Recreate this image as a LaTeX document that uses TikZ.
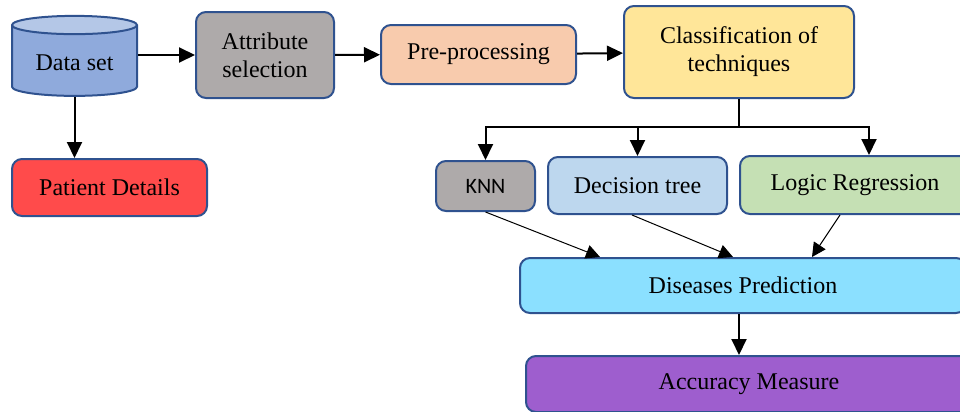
\documentclass[tikz,border=0pt]{standalone}
\usepackage{fontspec}
\setmainfont{Liberation Serif}
\newfontfamily\knnfont{Carlito}
\usetikzlibrary{arrows.meta,shapes.geometric,positioning}
\definecolor{edge}{RGB}{47,82,143}
\definecolor{dsbody}{RGB}{143,170,220}
\definecolor{dstop}{RGB}{180,199,231}
\definecolor{graybox}{RGB}{174,170,170}
\definecolor{peach}{RGB}{248,203,173}
\definecolor{yellowbox}{RGB}{255,230,153}
\definecolor{redbox}{RGB}{255,75,75}
\definecolor{lightblue}{RGB}{189,215,238}
\definecolor{lightgreen}{RGB}{197,224,180}
\definecolor{cyanbox}{RGB}{139,224,255}
\definecolor{purplebox}{RGB}{158,94,206}
\tikzset{
  box/.style={draw=edge,line width=1pt,rounded corners=5pt,align=center,
    font=\fontsize{12}{14}\selectfont},
  flow/.style={line width=1pt,-{Triangle[length=8pt,width=7.5pt]}},
  thin flow/.style={line width=0.5pt,-{Triangle[length=7pt,width=7pt]}}
}
\begin{document}
\begin{tikzpicture}[x=0.5pt,y=-0.5pt]
        \useasboundingbox (0,0) rectangle (960,412);
        \clip (0,0) rectangle (960,412);
        % top row
        \node[cylinder,shape border rotate=90,aspect=0.2,draw=edge,line width=1pt,
          cylinder uses custom fill,cylinder body fill=dsbody,cylinder end fill=dstop,
          minimum width=62.5pt,minimum height=40pt,font=\fontsize{12}{14}\selectfont]
          (data) at (74.5,63) {Data set};
        \node[box,fill=graybox,minimum width=69pt,minimum height=43pt] (attr) at (265,55) {Attribute\\selection};
        \node[box,fill=peach,minimum width=97.5pt,minimum height=29.5pt] (pre) at (478.5,54.5) {Pre-processing};
        \node[box,fill=yellowbox,minimum width=115pt,minimum height=46pt] (cls) at (739,52) {Classification of\\techniques};
        \node[box,fill=redbox,minimum width=97.5pt,minimum height=28.5pt] (pat) at (109.5,187.5) {Patient Details};
        % classifiers
        \node[box,fill=graybox,minimum width=49.5pt,minimum height=25pt,font=\knnfont\fontsize{11}{13}\selectfont] (knn) at (485.5,186) {KNN};
        \node[box,fill=lightblue,minimum width=89.5pt,minimum height=28.5pt] (dt) at (637.5,185.5) {Decision tree};
        \node[box,fill=lightgreen,minimum width=115pt,minimum height=29pt] (lr) at (855,185) {Logic Regression};
        \node[box,fill=cyanbox,minimum width=223pt,minimum height=27.5pt] (dp) at (743,285.5) {Diseases Prediction};
        \node[box,fill=purplebox,minimum width=223pt,minimum height=28pt] (am) at (749,384) {Accuracy Measure};
        \coordinate (fork) at (739,127);
        % connectors
        \draw[flow] (data.east |- attr.west) -- (attr.west);
        \draw[flow] (attr) -- (pre);
        \draw[flow] (pre) -- (cls);
        \draw[flow] (data.south) -- (data.south |- pat.north);
        \draw[line width=1pt] (cls.south) -- (fork);
        \draw[flow] (fork) -| (knn.north);
        \draw[flow] (fork) -| (dt.north);
        \draw[flow] (fork) -| ([xshift=7pt]lr.north);
        \draw[thin flow] (knn.south) -- ([xshift=-71.5pt]dp.north);
        \draw[thin flow] ([xshift=-2.75pt]dt.south) -- ([xshift=-5pt]dp.north);
        \draw[thin flow] ([xshift=-7.5pt]lr.south) -- ([xshift=34.5pt]dp.north);
        \draw[flow] ([xshift=-2pt]dp.south) -- ([xshift=-2pt]dp.south |- am.north);
      \end{tikzpicture}
\end{document}
